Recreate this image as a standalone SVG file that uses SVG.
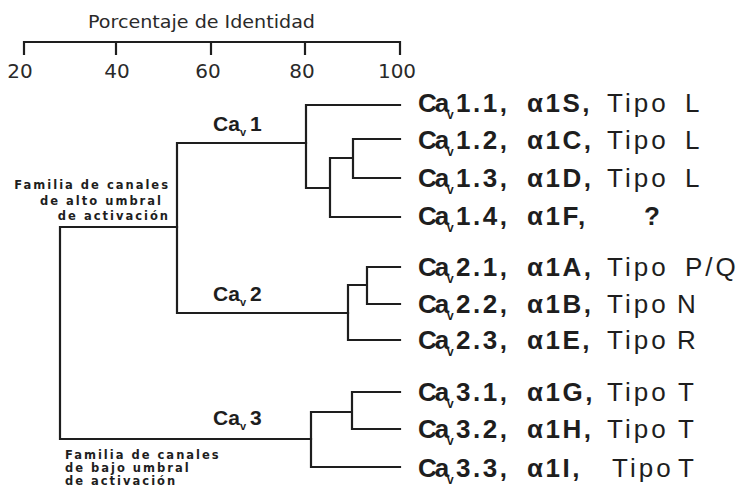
<svg xmlns="http://www.w3.org/2000/svg" width="741" height="493" viewBox="0 0 741 493">
<style>
.ln{fill:none;stroke:#1e1e1e;stroke-width:2.2;stroke-linecap:square}
.lf{font-family:"Liberation Sans",Arial,Helvetica,sans-serif;font-size:26px;fill:#1e1e1e}
.b{font-weight:bold}
.num{font-weight:bold;letter-spacing:2.5px}
.tp{font-weight:normal;letter-spacing:3px}
.sub{font-size:12px;font-weight:bold}
.cl{font-family:"Liberation Sans",Arial,Helvetica,sans-serif;font-size:21px;font-weight:bold;fill:#1e1e1e}
.fam{font-family:"DejaVu Sans",Verdana,sans-serif;font-size:11.5px;font-weight:bold;fill:#1e1e1e;letter-spacing:2px}
.ax{font-family:"DejaVu Sans",Verdana,sans-serif;fill:#2a2a2a}
</style>
<rect width="741" height="493" fill="#ffffff"/>
<g id="axis">
<text class="ax" x="88" y="28" font-size="17" textLength="227" lengthAdjust="spacingAndGlyphs">Porcentaje de Identidad</text>
<path class="ln" d="M24,42 H400 M24,42 V54 M116,42 V54 M211,42 V54 M305,42 V54 M400,42 V54"/>
<text class="ax" font-size="20" y="78" text-anchor="middle"><tspan x="20">20</tspan><tspan x="117">40</tspan><tspan x="208">60</tspan><tspan x="302">80</tspan><tspan x="397">100</tspan></text>
</g>
<g id="connectors">
<path class="ln" d="M60,227 H177 M60,227 V439 M60,439 H311"/>
<path class="ln" d="M177,143 V313 M177,143 H306 M177,313 H348"/>
<path class="ln" d="M306,105 V188 M306,105 H400 M306,188 H330 M330,158 V217 M330,217 H400 M330,158 H353 M353,139 V178 M353,139 H400 M353,178 H400"/>
<path class="ln" d="M348,285 V340 M348,340 H400 M348,285 H367 M367,267 V304 M367,267 H400 M367,304 H400"/>
<path class="ln" d="M311,412 V467 M311,467 H400 M311,412 H352 M352,392 V429 M352,392 H400 M352,429 H400"/>
</g>
<g id="fam-alto">
<text class="fam" text-anchor="end"><tspan x="170" y="189">Familia de canales</tspan><tspan x="163" y="205">de alto umbral</tspan><tspan x="170" y="220">de activación</tspan></text>
</g>
<g id="fam-bajo">
<text class="fam"><tspan x="65" y="459">Familia de canales</tspan><tspan x="65" y="472">de bajo umbral</tspan><tspan x="65" y="485">de activación</tspan></text>
</g>
<g id="cav1"><text class="cl" y="131"><tspan x="213">Ca</tspan><tspan x="240" dy="5" font-size="11">v</tspan><tspan x="250" dy="-5">1</tspan></text></g>
<g id="cav2"><text class="cl" y="301"><tspan x="213">Ca</tspan><tspan x="240" dy="5" font-size="11">v</tspan><tspan x="250" dy="-5">2</tspan></text></g>
<g id="cav3"><text class="cl" y="425"><tspan x="213">Ca</tspan><tspan x="240" dy="5" font-size="11">v</tspan><tspan x="250" dy="-5">3</tspan></text></g>
<g id="cav1-1"><text class="lf" y="112"><tspan class="b" x="418" letter-spacing="-2">Ca</tspan><tspan class="sub" x="447" dy="7">v</tspan><tspan class="num" x="456" dy="-7">1.1,</tspan><tspan class="num" x="527">α1S,</tspan><tspan class="tp" x="607">Tipo</tspan><tspan class="tp" x="685">L</tspan></text></g>
<g id="cav1-2"><text class="lf" y="149"><tspan class="b" x="418" letter-spacing="-2">Ca</tspan><tspan class="sub" x="447" dy="7">v</tspan><tspan class="num" x="456" dy="-7">1.2,</tspan><tspan class="num" x="527">α1C,</tspan><tspan class="tp" x="607">Tipo</tspan><tspan class="tp" x="685">L</tspan></text></g>
<g id="cav1-3"><text class="lf" y="187"><tspan class="b" x="418" letter-spacing="-2">Ca</tspan><tspan class="sub" x="447" dy="7">v</tspan><tspan class="num" x="456" dy="-7">1.3,</tspan><tspan class="num" x="527">α1D,</tspan><tspan class="tp" x="607">Tipo</tspan><tspan class="tp" x="685">L</tspan></text></g>
<g id="cav1-4"><text class="lf" y="225"><tspan class="b" x="418" letter-spacing="-2">Ca</tspan><tspan class="sub" x="447" dy="7">v</tspan><tspan class="num" x="456" dy="-7">1.4,</tspan><tspan class="num" x="527">α1F,</tspan><tspan class="b" x="644">?</tspan></text></g>
<g id="cav2-1"><text class="lf" y="276"><tspan class="b" x="418" letter-spacing="-2">Ca</tspan><tspan class="sub" x="447" dy="7">v</tspan><tspan class="num" x="456" dy="-7">2.1,</tspan><tspan class="num" x="527">α1A,</tspan><tspan class="tp" x="607">Tipo</tspan><tspan class="tp" x="685">P/Q</tspan></text></g>
<g id="cav2-2"><text class="lf" y="313"><tspan class="b" x="418" letter-spacing="-2">Ca</tspan><tspan class="sub" x="447" dy="7">v</tspan><tspan class="num" x="456" dy="-7">2.2,</tspan><tspan class="num" x="527">α1B,</tspan><tspan class="tp" x="607">Tipo</tspan><tspan class="tp" x="677">N</tspan></text></g>
<g id="cav2-3"><text class="lf" y="349"><tspan class="b" x="418" letter-spacing="-2">Ca</tspan><tspan class="sub" x="447" dy="7">v</tspan><tspan class="num" x="456" dy="-7">2.3,</tspan><tspan class="num" x="527">α1E,</tspan><tspan class="tp" x="607">Tipo</tspan><tspan class="tp" x="677">R</tspan></text></g>
<g id="cav3-1"><text class="lf" y="401"><tspan class="b" x="418" letter-spacing="-2">Ca</tspan><tspan class="sub" x="447" dy="7">v</tspan><tspan class="num" x="456" dy="-7">3.1,</tspan><tspan class="num" x="527">α1G,</tspan><tspan class="tp" x="607">Tipo</tspan><tspan class="tp" x="678">T</tspan></text></g>
<g id="cav3-2"><text class="lf" y="438"><tspan class="b" x="418" letter-spacing="-2">Ca</tspan><tspan class="sub" x="447" dy="7">v</tspan><tspan class="num" x="456" dy="-7">3.2,</tspan><tspan class="num" x="527">α1H,</tspan><tspan class="tp" x="607">Tipo</tspan><tspan class="tp" x="678">T</tspan></text></g>
<g id="cav3-3"><text class="lf" y="477"><tspan class="b" x="418" letter-spacing="-2">Ca</tspan><tspan class="sub" x="447" dy="7">v</tspan><tspan class="num" x="456" dy="-7">3.3,</tspan><tspan class="num" x="527">α1I,</tspan><tspan class="tp" x="612">Tipo</tspan><tspan class="tp" x="678">T</tspan></text></g>
</svg>
